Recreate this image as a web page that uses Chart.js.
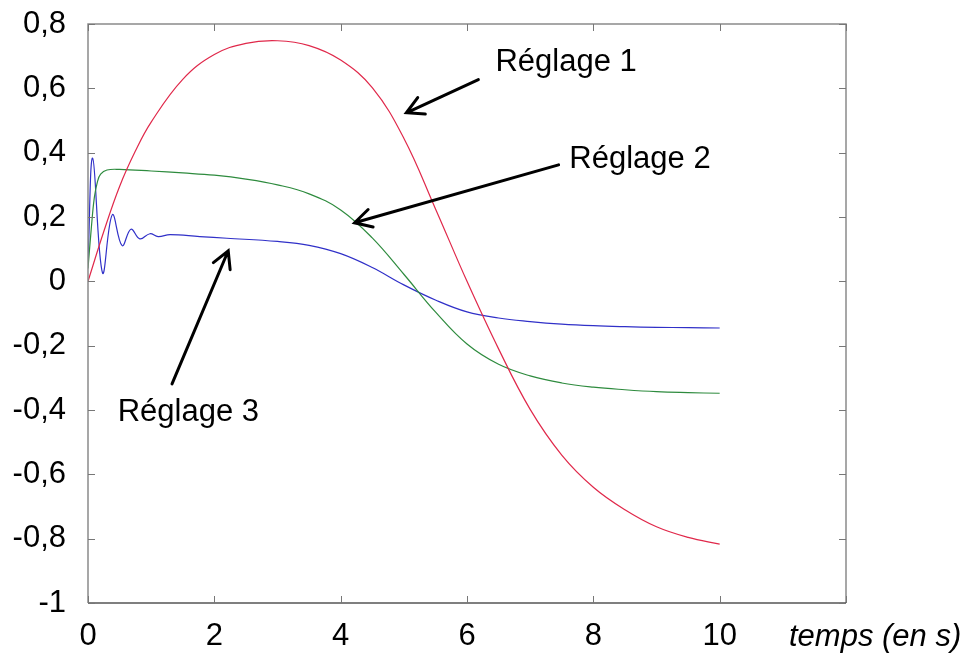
<!DOCTYPE html>
<html>
<head>
<meta charset="utf-8">
<script src="https://cdn.jsdelivr.net/npm/chart.js@4.4.1/dist/chart.umd.min.js"></script>
<style>
  body { margin: 0; background: #fff; }
  #wrap { width: 974px; height: 655px; }
</style>
</head>
<body>
<div id="wrap"><canvas id="chart"></canvas></div>
<script>
// temps (s) et réponses
const t1 = [0, 0.25, 0.5, 0.75, 1, 1.5, 2, 2.5, 3, 3.5, 4, 4.5, 5, 5.5, 6, 6.5, 7, 7.5, 8, 8.5, 9, 9.5, 10];
const reglage1 = [0, 0.155, 0.295, 0.405, 0.495, 0.628, 0.705, 0.740, 0.748, 0.733, 0.688, 0.602, 0.445, 0.226, 0.0,
  -0.21, -0.398, -0.54, -0.64, -0.71, -0.763, -0.796, -0.817];

const t2 = [0, 0.05, 0.1, 0.15, 0.2, 0.3, 0.5, 1, 1.5, 2, 2.5, 3, 3.5, 4, 4.5, 5, 5.5, 6, 6.5, 7, 7.5, 8, 8.5, 9, 9.5, 10];
const reglage2 = [0.04, 0.16, 0.26, 0.31, 0.333, 0.346, 0.348, 0.343, 0.337, 0.33, 0.318, 0.30, 0.272, 0.222, 0.135, 0.022,
  -0.095, -0.195, -0.258, -0.294, -0.316, -0.329, -0.337, -0.343, -0.346, -0.348];

const t3 = [0, 0.074, 0.23, 0.385, 0.54, 0.68, 0.82, 0.98, 1.11, 1.3, 1.77, 2.2, 3, 3.5, 4, 4.5, 5, 5.5, 6, 6.5, 7, 7.5, 8, 8.5, 9, 9.5, 10];
const reglage3 = [0.06, 0.383, 0.026, 0.207, 0.111, 0.162, 0.132, 0.148, 0.139, 0.145, 0.139, 0.134, 0.124, 0.112, 0.086, 0.043,
  -0.011, -0.058, -0.095, -0.114, -0.125, -0.133, -0.138, -0.141, -0.143, -0.144, -0.145];

const xTicks = [0, 2, 4, 6, 8, 10, 12];
const yTicks = [-1, -0.8, -0.6, -0.4, -0.2, 0, 0.2, 0.4, 0.6, 0.8];

// étiquettes et flèches (coordonnées en unités des axes)
const labels = [
  { text: 'Réglage 1', x: 6.45, y: 0.68,  from: [6.18, 0.627], to: [5.04, 0.524] },
  { text: 'Réglage 2', x: 7.62, y: 0.378, from: [7.45, 0.362], to: [4.22, 0.182] },
  { text: 'Réglage 3', x: 0.47, y: -0.409, from: [1.33, -0.319], to: [2.22, 0.095] }
];

const FONT = "'Liberation Sans', Arial, sans-serif";

function pts(t, v) {
  return t.map((x, i) => ({ x: x, y: v[i] }));
}

const frame = {
  id: 'frame',
  afterDraw(chart) {
    const ctx = chart.ctx;
    const a = chart.chartArea;
    const xs = chart.scales.x, ys = chart.scales.y;
    ctx.save();
    // cadre
    ctx.lineWidth = 1.5;
    ctx.strokeStyle = '#8a8a8a';
    ctx.beginPath();
    ctx.moveTo(a.left, a.bottom);
    ctx.lineTo(a.left, a.top);
    ctx.lineTo(a.right, a.top);
    ctx.lineTo(a.right, a.bottom);
    ctx.stroke();
    ctx.strokeStyle = '#555';
    ctx.beginPath();
    ctx.moveTo(a.left, a.bottom);
    ctx.lineTo(a.right, a.bottom);
    ctx.stroke();
    // graduations intérieures
    ctx.lineWidth = 1;
    ctx.strokeStyle = '#777';
    ctx.beginPath();
    xTicks.forEach(v => {
      const px = Math.round(xs.getPixelForValue(v)) + 0.5;
      ctx.moveTo(px, a.bottom); ctx.lineTo(px, a.bottom - 7);
      ctx.moveTo(px, a.top); ctx.lineTo(px, a.top + 7);
    });
    yTicks.forEach(v => {
      const py = Math.round(ys.getPixelForValue(v)) + 0.5;
      ctx.moveTo(a.left, py); ctx.lineTo(a.left + 7, py);
      ctx.moveTo(a.right, py); ctx.lineTo(a.right - 7, py);
    });
    ctx.stroke();

    // titre de l'axe x
    ctx.fillStyle = '#000';
    ctx.font = 'italic 31px ' + FONT;
    ctx.textAlign = 'left';
    ctx.textBaseline = 'middle';
    ctx.fillText('temps (en s)', xs.getPixelForValue(12) - 57, 637);

    // annotations
    ctx.font = '31px ' + FONT;
    ctx.strokeStyle = '#000';
    ctx.lineWidth = 3;
    ctx.lineCap = 'round';
    labels.forEach(l => {
      ctx.fillText(l.text, xs.getPixelForValue(l.x), ys.getPixelForValue(l.y));
      const x0 = xs.getPixelForValue(l.from[0]), y0 = ys.getPixelForValue(l.from[1]);
      const x1 = xs.getPixelForValue(l.to[0]), y1 = ys.getPixelForValue(l.to[1]);
      const ang = Math.atan2(y0 - y1, x0 - x1);
      const h = 19, s = 0.5;
      ctx.beginPath();
      ctx.moveTo(x0, y0); ctx.lineTo(x1, y1);
      ctx.moveTo(x1 + h * Math.cos(ang - s), y1 + h * Math.sin(ang - s));
      ctx.lineTo(x1, y1);
      ctx.lineTo(x1 + h * Math.cos(ang + s), y1 + h * Math.sin(ang + s));
      ctx.stroke();
    });
    ctx.restore();
  }
};

const common = { showLine: true, pointRadius: 0, borderWidth: 1.2, tension: 0.4, fill: false };

new Chart(document.getElementById('chart'), {
  type: 'scatter',
  data: {
    datasets: [
      Object.assign({ label: 'Réglage 1', data: pts(t1, reglage1), borderColor: '#e0284a' }, common),
      Object.assign({ label: 'Réglage 2', data: pts(t2, reglage2), borderColor: '#2e8b3e' }, common),
      Object.assign({ label: 'Réglage 3', data: pts(t3, reglage3), borderColor: '#3030c8' }, common)
    ]
  },
  options: {
    responsive: true,
    maintainAspectRatio: false,
    animation: false,
    layout: { padding: { top: 24, right: 128, bottom: 0, left: 0 } },
    plugins: { legend: { display: false }, tooltip: { enabled: false } },
    scales: {
      x: {
        type: 'linear', min: 0, max: 12,
        grid: { display: false, drawTicks: false }, border: { display: false },
        afterFit(s) { s.height = 52; s.paddingLeft = 0; s.paddingRight = 0; },
        afterBuildTicks(s) { s.ticks = xTicks.map(v => ({ value: v })); },
        ticks: {
          padding: 15, color: '#000', maxRotation: 0,
          font: { family: FONT, size: 31 },
          callback: v => (v === 12 ? '' : String(v))
        }
      },
      y: {
        type: 'linear', min: -1, max: 0.8,
        grid: { display: false, drawTicks: false }, border: { display: false },
        afterFit(s) { s.width = 88; s.paddingTop = 0; s.paddingBottom = 0; },
        afterBuildTicks(s) { s.ticks = yTicks.map(v => ({ value: v })); },
        ticks: {
          padding: 22, color: '#000',
          font: { family: FONT, size: 31 },
          callback: v => String(Math.round(v * 10) / 10).replace('.', ',')
        }
      }
    }
  },
  plugins: [frame]
});
</script>
</body>
</html>
